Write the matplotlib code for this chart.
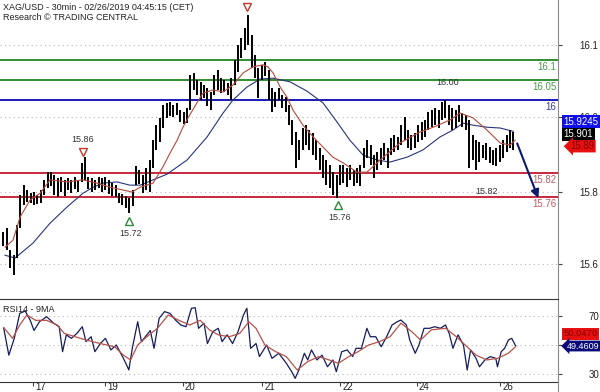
import matplotlib
matplotlib.use("Agg")
import matplotlib.pyplot as plt
import matplotlib.transforms as mtransforms
from matplotlib.lines import Line2D
import numpy as np

plt.rcParams['font.family'] = ['Liberation Sans', 'DejaVu Sans']

# hourly bars (high / low)
highs = [15.674, 15.684, 15.630, 15.617, 15.691, 15.766, 15.790, 15.778, 15.770, 15.773,
         15.766, 15.778, 15.803, 15.822, 15.822, 15.815, 15.808, 15.810, 15.803, 15.808,
         15.803, 15.810, 15.803, 15.845, 15.859, 15.810, 15.808, 15.803, 15.810, 15.808,
         15.810, 15.803, 15.795, 15.790, 15.770, 15.768, 15.763, 15.758, 15.778, 15.837,
         15.827, 15.815, 15.832, 15.852, 15.901, 15.938, 15.956, 15.988, 15.993, 15.995,
         15.988, 15.993, 15.975, 15.970, 15.980, 16.062, 16.067, 16.049, 16.045, 16.037,
         16.030, 16.020, 16.062, 16.074, 16.054, 16.049, 16.042, 16.054, 16.099, 16.136,
         16.153, 16.178, 16.210, 16.161, 16.111, 16.079, 16.087, 16.094, 16.074, 16.030,
         16.020, 16.030, 16.012, 16.007, 15.988, 15.951, 15.921, 15.901, 15.931, 15.938,
         15.926, 15.919, 15.901, 15.882, 15.864, 15.852, 15.840, 15.822, 15.815, 15.840,
         15.840, 15.832, 15.840, 15.827, 15.832, 15.840, 15.882, 15.901, 15.889, 15.864,
         15.872, 15.882, 15.894, 15.882, 15.906, 15.914, 15.909, 15.938, 15.958, 15.926,
         15.914, 15.919, 15.938, 15.946, 15.951, 15.970, 15.975, 15.980, 15.975, 15.995,
         16.000, 15.988, 15.980, 15.975, 15.988, 15.968, 15.963, 15.951, 15.914, 15.901,
         15.896, 15.889, 15.894, 15.884, 15.877, 15.882, 15.889, 15.901, 15.914, 15.926,
         15.921]
lows = [15.640, 15.630, 15.585, 15.568, 15.610, 15.684, 15.741, 15.748, 15.746, 15.741,
        15.743, 15.746, 15.766, 15.783, 15.788, 15.766, 15.761, 15.773, 15.763, 15.778,
        15.770, 15.780, 15.773, 15.798, 15.803, 15.780, 15.773, 15.778, 15.783, 15.773,
        15.778, 15.768, 15.763, 15.761, 15.746, 15.741, 15.733, 15.721, 15.738, 15.790,
        15.793, 15.770, 15.778, 15.773, 15.832, 15.877, 15.896, 15.931, 15.956, 15.961,
        15.958, 15.963, 15.946, 15.941, 15.943, 15.975, 16.025, 16.012, 16.000, 16.005,
        15.985, 15.975, 16.012, 16.025, 16.017, 16.020, 16.012, 16.000, 16.037, 16.069,
        16.104, 16.124, 16.136, 16.079, 16.054, 16.005, 16.049, 16.059, 16.000, 15.970,
        15.983, 16.000, 15.980, 15.970, 15.938, 15.889, 15.832, 15.852, 15.877, 15.889,
        15.877, 15.864, 15.852, 15.827, 15.808, 15.790, 15.783, 15.766, 15.758, 15.790,
        15.795, 15.785, 15.803, 15.788, 15.795, 15.788, 15.832, 15.857, 15.840, 15.808,
        15.827, 15.840, 15.852, 15.832, 15.864, 15.872, 15.877, 15.889, 15.901, 15.882,
        15.877, 15.882, 15.896, 15.901, 15.909, 15.926, 15.933, 15.938, 15.931, 15.951,
        15.956, 15.938, 15.926, 15.931, 15.946, 15.933, 15.926, 15.832, 15.852, 15.827,
        15.847, 15.857, 15.852, 15.845, 15.840, 15.837, 15.847, 15.857, 15.872, 15.882,
        15.877]

# moving averages (bar, price)
ma_fast_x = [1.5, 3.8, 5.9, 8.8, 11.8, 14.7, 19.7, 24.4, 28.5, 32.4, 36.2, 38.8, 41.2, 45,
             47.9, 50, 52.1, 53.8, 55.3, 57.9, 59.7, 62.6, 65.6, 68.5, 71.5, 74.4, 77.4,
             78.8, 80.3, 82.4, 84.4, 86.2, 89.1, 92.1, 95, 97.9, 100.9, 105, 107.9, 111.8,
             117.6, 123.5, 127.4, 132.4, 135.3, 139.1, 143.2, 147.1, 150, 151.5]
ma_fast_y = [15.637, 15.654, 15.711, 15.753, 15.770, 15.803, 15.798, 15.803, 15.795, 15.785,
             15.778, 15.773, 15.785, 15.795, 15.835, 15.869, 15.901, 15.933, 15.956, 15.993,
             16.017, 16.025, 16.020, 16.037, 16.067, 16.082, 16.087, 16.082, 16.067, 16.032,
             16.007, 15.975, 15.938, 15.909, 15.884, 15.859, 15.845, 15.822, 15.822, 15.852,
             15.894, 15.921, 15.933, 15.951, 15.968, 15.956, 15.926, 15.894, 15.889, 15.901]
ma_slow_x = [1.5, 4.4, 9.7, 14.7, 19.7, 24.4, 27.4, 30.3, 34.4, 38.2, 41.2, 45, 49.1, 55,
             60.9, 65.6, 68.5, 72.6, 76.5, 80.3, 85.3, 90.3, 95, 99.1, 102.9, 106.8, 110.9,
             114.7, 119.7, 124.4, 129.4, 133.2, 136.2, 139.1, 143.2, 147.1, 150.9]
ma_slow_y = [15.617, 15.610, 15.647, 15.696, 15.736, 15.770, 15.785, 15.795, 15.798, 15.790,
             15.790, 15.803, 15.817, 15.852, 15.909, 15.968, 16.000, 16.032, 16.052, 16.054,
             16.045, 16.022, 15.993, 15.946, 15.901, 15.864, 15.852, 15.847, 15.859, 15.877,
             15.909, 15.926, 15.943, 15.938, 15.933, 15.931, 15.923]

# RSI14 and its 9MA
rsi_x = [1.1, 2.6, 4.2, 5.8, 7.4, 8.9, 10.0, 11.6, 13.7, 15.8, 17.4, 18.4, 19.5, 21.0, 22.6,
         24.2, 25.3, 26.8, 27.9, 29.5, 31.0, 32.6, 34.2, 36.3, 37.9, 38.9, 40.5, 41.6, 43.2,
         44.2, 45.3, 46.8, 48.4, 50.0, 51.6, 53.2, 54.7, 56.3, 57.4, 58.4, 60.0, 61.0, 62.6,
         64.2, 65.3, 66.8, 68.4, 70.0, 71.6, 72.6, 73.7, 75.3, 76.3, 78.4, 80.0, 82.0, 84.2,
         85.8, 86.8, 87.9, 89.5, 90.5, 91.6, 93.2, 94.7, 96.3, 97.9, 98.9, 100.5, 102.1,
         103.7, 104.7, 106.3, 107.9, 108.9, 110.5, 112.1, 113.7, 115.3, 116.8, 117.9, 119.5,
         120.5, 122.1, 123.2, 124.7, 126.3, 127.9, 129.5, 131.0, 132.1, 133.2, 134.7, 136.3,
         137.4, 138.4, 140.0, 141.0, 142.6, 144.2, 145.8, 146.3, 147.4, 148.4, 149.5, 150.5,
         151.6]
rsi_y = [61.5, 43, 54.6, 71.8, 73.4, 67, 60, 66, 69.5, 65, 62.6, 45.4, 57, 54.6, 58,
         62.6, 52.3, 55.7, 45.4, 51, 54.6, 46.6, 50, 40.8, 32.8, 47.7, 66, 52.3, 57,
         60, 47.7, 68.4, 73, 71.8, 67.2, 63.8, 62.6, 75.3, 75.7, 61.5, 65, 51, 59.2,
         61.5, 52.3, 57, 51, 59.2, 70.7, 75.3, 47.7, 51, 42, 50, 40.8, 44.3, 37.4,
         31.6, 27, 32.8, 44.3, 39.7, 46.6, 39.7, 43, 35, 39.7, 31.6, 45.4, 46.6,
         42, 47.7, 47.7, 61.5, 55.7, 55.7, 48.8, 55.7, 63.8, 66, 67.2, 63.8,
         53.4, 44.3, 50, 61.5, 61.5, 62.6, 61.5, 63.8, 58, 47.7, 57, 50,
         32.8, 46.6, 40.8, 35, 39.7, 42, 40.8, 35, 45.4, 47.7, 53.4, 54.6,
         49.5]
rsi_ma_x = [1.1, 3.7, 5.8, 7.9, 10.5, 13.7, 16.8, 18.9, 22.1, 25.3, 29.5, 33.7, 36.3, 38.4,
            40.5, 43.2, 46.3, 49.5, 52.6, 55.8, 58.9, 61.6, 64.2, 67.4, 70.5, 73.2, 75.3,
            77.9, 81.1, 84.2, 87.4, 90.5, 93.7, 96.8, 99.5, 102.6, 105.3, 108.4, 111.6,
            114.7, 117.9, 121.1, 123.7, 126.8, 131.1, 134.2, 136.8, 140.0, 143.2, 146.3,
            149.5, 151.6]
rsi_ma_y = [62, 54.6, 63.8, 70.7, 67, 67, 63.8, 58, 55.7, 53.4, 51, 48.8, 43, 39.7,
            50, 55.7, 61.5, 70.7, 67, 63.8, 67, 60.4, 57, 55.7, 58, 66, 61.5,
            50, 45.4, 42, 32.8, 38.5, 42, 39.7, 37.4, 42, 45.4, 50, 52.3,
            55.7, 65, 59.2, 53.4, 60.4, 61.5, 55.7, 50, 43, 39.7, 40.8,
            44.3, 48.8]

# support / resistance levels
levels = [16.1, 16.05, 16.0, 15.82, 15.76]
level_labels = ["16.1", "16.05", "16", "15.82", "15.76"]
level_colors = ["#2f8f2f", "#2f8f2f", "#1a1ab8", "#c8283c", "#c8283c"]
level_text_colors = ["#4c9c4c", "#4c9c4c", "#3a3aa8", "#c45a68", "#c45a68"]

# pivot markers
pivot_x = [24.4, 72.6, 37.9, 99.4]
pivot_y = [15.872, 16.230, 15.701, 15.741]
pivot_up = [False, False, True, True]
pivot_text = ["15.86", "", "15.72", "15.76"]

day_pos = [9.7, 30.9, 53.8, 77.1, 100.0, 122.6, 147.1]
day_labels = ["17", "19", "20", "21", "22", "24", "26"]
price_ticks = [16.136, 15.958, 15.773, 15.595]
price_tick_labels = ["16.1", "16.0", "15.8", "15.6"]

fig = plt.figure(figsize=(6, 3.92), dpi=100)
ax = fig.add_axes([0, 93 / 392, 558 / 600, 299 / 392])
rax = fig.add_axes([0, 10 / 392, 558 / 600, 83 / 392], sharex=ax)

bars = np.arange(1, len(highs) + 1)
ax.set_xlim(0, 164.1)
ax.set_ylim(15.509, 16.247)

ax.set_yticks(price_ticks)
ax.set_yticklabels(price_tick_labels)
ax.grid(axis='y', linestyle=(0, (1, 3)), color='#b8b8b8', lw=0.8)
ax.yaxis.tick_right()
ax.tick_params(axis='y', direction='out', length=3, pad=12, labelsize=7,
               colors='#444444', labelcolor='#222222')
ax.tick_params(axis='x', bottom=False, labelbottom=False)
for s in ['top', 'left', 'bottom']:
    ax.spines[s].set_visible(False)
ax.spines['right'].set_color('#8a8a8a')

for lv, c in zip(levels, level_colors):
    ax.axhline(lv, color=c, lw=1.4, zorder=2)

ax.plot(ma_slow_x, ma_slow_y, color='#28357a', lw=0.8, zorder=3)
ax.vlines(bars, lows, highs, color='black', lw=1.4, zorder=4)
ax.plot(ma_fast_x, ma_fast_y, color='#b44a3e', lw=0.8, zorder=5)

for lv, lab, tc in zip(levels, level_labels, level_text_colors):
    ax.annotate(lab, (163.7, lv), xytext=(0, -1.5), textcoords='offset points',
                ha='right', va='top', color=tc, fontsize=7)

ax.text(131.5, 16.044, "16.00", ha='center', va='center', fontsize=6.5, color='#333333')
ax.text(143.2, 15.775, "15.82", ha='center', va='center', fontsize=6.5, color='#333333')

for px, py, up, t in zip(pivot_x, pivot_y, pivot_up, pivot_text):
    col = '#2e8b3a' if up else '#c0392b'
    ax.plot(px, py, marker='^' if up else 'v', ms=6, mfc='white', mec=col, mew=1.0,
            zorder=6)
    if t:
        dy = -9 if up else 9
        ax.annotate(t, (px, py), xytext=(1 if up else 0, dy), textcoords='offset points',
                    ha='center', va='center', fontsize=6.5, color='#333333')

ax.annotate('', xy=(158.3, 15.758), xytext=(152.1, 15.893),
            arrowprops=dict(arrowstyle='-|>', color='#0d1a6e', lw=1.5,
                            mutation_scale=12, shrinkA=0, shrinkB=0), zorder=7)

ytr = ax.get_yaxis_transform()
ax.text(1.01, 15.946, "15.9245", transform=ytr, ha='left', va='center', fontsize=7,
        color='white', zorder=10,
        bbox=dict(boxstyle='square,pad=0.15', fc='#1010e6', ec='none'))
ax.text(1.01, 15.916, "15.901", transform=ytr, ha='left', va='center', fontsize=7,
        color='white', zorder=10,
        bbox=dict(boxstyle='square,pad=0.15', fc='black', ec='none'))
ax.text(1.022, 15.886, "15.89", transform=ytr, ha='left', va='center', fontsize=7,
        color='#8a0000', zorder=10,
        bbox=dict(boxstyle='larrow,pad=0.12', fc='#e61010', ec='none'))

fig.text(3 / 600, 1 - 7 / 392, "XAG/USD - 30min - 02/26/2019 04:45:15 (CET)",
         ha='left', va='center', fontsize=6.5, color='#222222')
fig.text(3 / 600, 1 - 18 / 392, "Research \u00a9 TRADING CENTRAL",
         ha='left', va='center', fontsize=6.5, color='#222222')

# RSI panel
rax.set_ylim(24.5, 81.7)
rax.plot(rsi_x, rsi_y, color='#141c5a', lw=0.9)
rax.plot(rsi_ma_x, rsi_ma_y, color='#b5524a', lw=0.9)
rax.set_yticks([70, 50, 30])
rax.set_yticklabels(["70", "", "30"])
rax.grid(axis='y', linestyle=(0, (1, 3)), color='#b8b8b8', lw=0.8)
rax.yaxis.tick_right()
rax.tick_params(axis='y', direction='out', length=3, pad=19, labelsize=7,
                colors='#444444', labelcolor='#222222')
rax.set_xticks(day_pos)
rax.set_xticklabels(day_labels)
rax.tick_params(axis='x', direction='out', length=3, pad=-3, labelsize=7,
                colors='#444444', labelcolor='#222222')
offset = mtransforms.ScaledTranslation(1.5 / 72, 0, fig.dpi_scale_trans)
for lbl in rax.get_xticklabels():
    lbl.set_ha('left')
    lbl.set_transform(lbl.get_transform() + offset)
rax.spines['left'].set_visible(False)
rax.spines['top'].set_color('#333333')
rax.spines['bottom'].set_color('#333333')
rax.spines['right'].set_color('#8a8a8a')
rax.text(0.005, 0.93, "RSI14 - 9MA", transform=rax.transAxes, ha='left', va='top',
         fontsize=6.5, color='#222222')

rtr = rax.get_yaxis_transform()
rax.text(1.01, 57.6, "50.0470", transform=rtr, ha='left', va='center', fontsize=6.8,
         color='#8a0000',
         bbox=dict(boxstyle='square,pad=0.12', fc='#e61010', ec='none'))
rax.text(1.016, 49.3, "49.4609", transform=rtr, ha='left', va='center', fontsize=6.5,
         color='white',
         bbox=dict(boxstyle='larrow,pad=0.1', fc='#0a0a78', ec='none'))

fig.add_artist(Line2D([558 / 600, 558 / 600], [0, 10 / 392], color='#8a8a8a', lw=0.8))

fig.savefig("out.png", dpi=100)
